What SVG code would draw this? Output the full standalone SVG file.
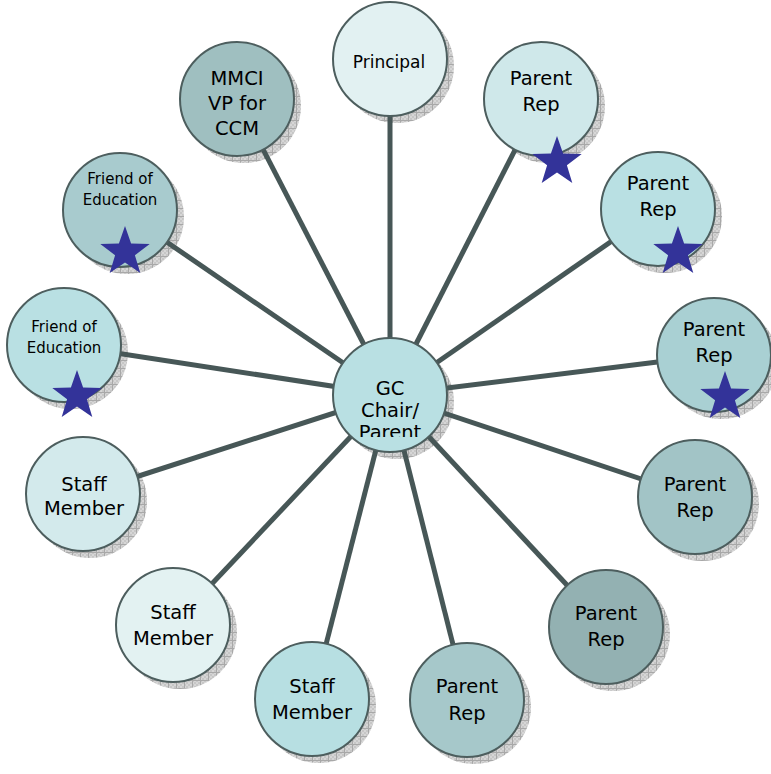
<svg xmlns="http://www.w3.org/2000/svg" width="771" height="774" viewBox="0 0 771 774">
<defs>
<pattern id="grid" width="8" height="8" patternUnits="userSpaceOnUse">
<rect width="8" height="8" fill="#d6d6d6"/>
<rect x="0" y="0" width="2" height="2" fill="#c6c6c6"/><rect x="4" y="0" width="2" height="2" fill="#c6c6c6"/>
<rect x="2" y="2" width="2" height="2" fill="#c6c6c6"/><rect x="6" y="2" width="2" height="2" fill="#c6c6c6"/>
<rect x="0" y="4" width="2" height="2" fill="#c6c6c6"/><rect x="4" y="4" width="2" height="2" fill="#c6c6c6"/>
<rect x="2" y="6" width="2" height="2" fill="#c6c6c6"/><rect x="6" y="6" width="2" height="2" fill="#c6c6c6"/>
<path d="M0 0.5H8M0.5 0V8" stroke="#a8a8a8" stroke-width="1"/>
</pattern>
<clipPath id="gcclip"><rect x="320" y="330" width="140" height="107"/></clipPath>
<path id="star" d="M0,-26 L6.1,-8.4 L24.7,-8 L9.9,3.2 L15.3,21 L0,10.4 L-15.3,21 L-9.9,3.2 L-24.7,-8 L-6.1,-8.4 Z"/>
</defs>
<style>
.sh{fill:url(#grid)}
.nd{stroke:#4d5e5e;stroke-width:2}
.cn line{stroke:#475757;stroke-width:5}
text{font-family:"DejaVu Sans","Liberation Sans",sans-serif;font-size:19.5px;fill:#000;text-anchor:middle}
.sm{font-size:15px}
.st{fill:#333399}
</style>
<rect width="771" height="774" fill="#ffffff"/>
<g id="shadows">
<circle class="sh" cx="397" cy="66" r="57"/>
<circle class="sh" cx="548" cy="106" r="57"/>
<circle class="sh" cx="665" cy="216" r="57"/>
<circle class="sh" cx="721" cy="362" r="57"/>
<circle class="sh" cx="702" cy="504" r="57"/>
<circle class="sh" cx="613" cy="634" r="57"/>
<circle class="sh" cx="474" cy="707" r="57"/>
<circle class="sh" cx="319" cy="706" r="57"/>
<circle class="sh" cx="180" cy="632" r="57"/>
<circle class="sh" cx="90" cy="501" r="57"/>
<circle class="sh" cx="71" cy="352" r="57"/>
<circle class="sh" cx="127" cy="217" r="57"/>
<circle class="sh" cx="244" cy="106" r="57"/>
<circle class="sh" cx="397" cy="402" r="57"/>
</g>
<g id="connectors" class="cn">
<line x1="390" y1="395" x2="390" y2="59"/>
<line x1="390" y1="395" x2="541" y2="99"/>
<line x1="390" y1="395" x2="658" y2="209"/>
<line x1="390" y1="395" x2="714" y2="355"/>
<line x1="390" y1="395" x2="695" y2="497"/>
<line x1="390" y1="395" x2="606" y2="627"/>
<line x1="390" y1="395" x2="467" y2="700"/>
<line x1="390" y1="395" x2="312" y2="699"/>
<line x1="390" y1="395" x2="173" y2="625"/>
<line x1="390" y1="395" x2="83" y2="494"/>
<line x1="390" y1="395" x2="64" y2="345"/>
<line x1="390" y1="395" x2="120" y2="210"/>
<line x1="390" y1="395" x2="237" y2="99"/>
</g>
<g id="principal"><circle class="nd" cx="390" cy="59" r="57" fill="#e2f1f2"/><text x="389" y="68" style="font-size:17px">Principal</text></g>
<g id="parent1"><circle class="nd" cx="541" cy="99" r="57" fill="#cfe8ea"/><text x="541" y="85">Parent</text><text x="541" y="111">Rep</text><use href="#star" class="st" x="557" y="162"/></g>
<g id="parent2"><circle class="nd" cx="658" cy="209" r="57" fill="#b9e0e3"/><text x="658" y="190">Parent</text><text x="658" y="216">Rep</text><use href="#star" class="st" x="678" y="252"/></g>
<g id="parent3"><circle class="nd" cx="714" cy="355" r="57" fill="#a9d0d3"/><text x="714" y="336">Parent</text><text x="714" y="362">Rep</text><use href="#star" class="st" x="725" y="397"/></g>
<g id="parent4"><circle class="nd" cx="695" cy="497" r="57" fill="#a2c4c6"/><text x="695" y="491">Parent</text><text x="695" y="517">Rep</text></g>
<g id="parent5"><circle class="nd" cx="606" cy="627" r="57" fill="#93b1b2"/><text x="606" y="620">Parent</text><text x="606" y="646">Rep</text></g>
<g id="parent6"><circle class="nd" cx="467" cy="700" r="57" fill="#a6c8ca"/><text x="467" y="693">Parent</text><text x="467" y="720">Rep</text></g>
<g id="staff3"><circle class="nd" cx="312" cy="699" r="57" fill="#b7dfe2"/><text x="312" y="693">Staff</text><text x="312" y="719">Member</text></g>
<g id="staff2"><circle class="nd" cx="173" cy="625" r="57" fill="#e3f2f2"/><text x="173" y="619">Staff</text><text x="173" y="645">Member</text></g>
<g id="staff1"><circle class="nd" cx="83" cy="494" r="57" fill="#d3eaec"/><text x="84" y="491">Staff</text><text x="84" y="515">Member</text></g>
<g id="friend2"><circle class="nd" cx="64" cy="345" r="57" fill="#b9e0e3"/><text class="sm" x="64" y="332">Friend of</text><text class="sm" x="64" y="353">Education</text><use href="#star" class="st" x="77" y="396"/></g>
<g id="friend1"><circle class="nd" cx="120" cy="210" r="57" fill="#a8cbce"/><text class="sm" x="120" y="184">Friend of</text><text class="sm" x="120" y="205">Education</text><use href="#star" class="st" x="125" y="252"/></g>
<g id="mmci"><circle class="nd" cx="237" cy="99" r="57" fill="#9fbfc0"/><text x="237" y="85">MMCI</text><text x="237" y="110">VP for</text><text x="237" y="135">CCM</text></g>
<g id="gc-chair"><circle class="nd" cx="390" cy="395" r="57" fill="#b9e0e3"/><g clip-path="url(#gcclip)"><text x="390" y="395">GC</text><text x="390" y="417">Chair/</text><text x="390" y="439">Parent</text></g></g>
</svg>
